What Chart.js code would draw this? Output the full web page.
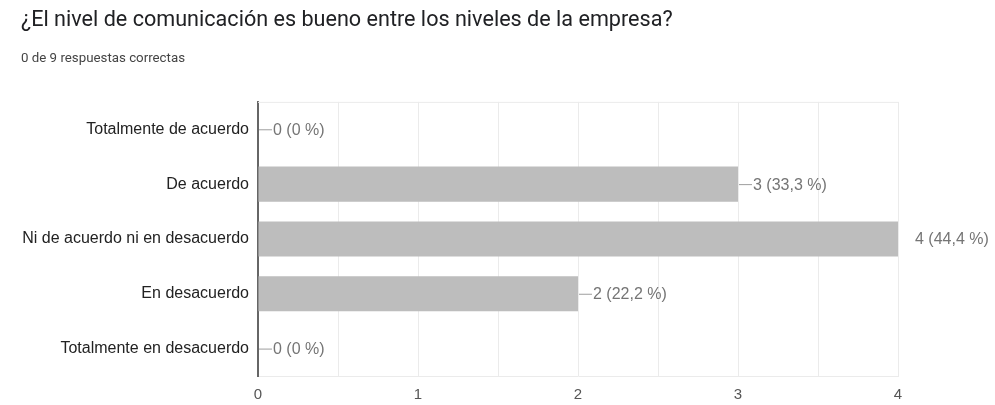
<!DOCTYPE html>
<html>
<head>
<meta charset="utf-8">
<script src="https://cdn.jsdelivr.net/npm/chart.js@4"></script>
<style>
  html, body { margin: 0; padding: 0; background: #fff; }
  #wrap { width: 995px; height: 405px; }
</style>
</head>
<body>
<div id="wrap"><canvas id="survey-chart"></canvas></div>
<script>
const categories = ['Totalmente de acuerdo', 'De acuerdo', 'Ni de acuerdo ni en desacuerdo', 'En desacuerdo', 'Totalmente en desacuerdo'];
const counts = [0, 3, 4, 2, 0];
const percents = ['0 %', '33,3 %', '44,4 %', '22,2 %', '0 %'];
const tickValues = [0, 1, 2, 3, 4];

const font = '"Liberation Sans", Arial, sans-serif';

// dash + "n (p %)" next to each bar, dash clipped to the plot area
const barLabels = {
	id: 'barLabels',
	afterDatasetsDraw(chart) {
		const ctx = chart.ctx,
			area = chart.chartArea,
			meta = chart.getDatasetMeta(0);

		ctx.save();
		meta.data.forEach((bar, i) => {
			const x = bar.x, y = bar.y;

			ctx.save();
			ctx.beginPath();
			ctx.rect(area.left, area.top, area.right - area.left + 1, area.bottom - area.top);
			ctx.clip();
			ctx.strokeStyle = '#9e9e9e';
			ctx.lineWidth = 1;
			ctx.beginPath();
			ctx.moveTo(x + 1, y + 0.5);
			ctx.lineTo(x + 14, y + 0.5);
			ctx.stroke();
			ctx.restore();

			ctx.fillStyle = '#757575';
			ctx.font = '16px ' + font;
			ctx.textBaseline = 'middle';
			ctx.textAlign = 'left';
			const off = x + 14 > area.right + 1 ? 17 : 15;
			ctx.fillText(counts[i] + ' (' + percents[i] + ')', x + off, y + 1);
		});
		ctx.restore();
	},
	beforeDatasetsDraw(chart) {
		const ctx = chart.ctx, area = chart.chartArea;
		ctx.save();
		ctx.strokeStyle = '#ebebeb';
		ctx.lineWidth = 1;
		ctx.beginPath();
		ctx.moveTo(area.left, area.top + 0.5);
		ctx.lineTo(area.right, area.top + 0.5);
		ctx.stroke();
		ctx.restore();
	}
};

new Chart(document.getElementById('survey-chart'), {
	type: 'bar',
	data: {
		labels: categories,
		datasets: [{
			data: counts,
			backgroundColor: '#bdbdbd',
			borderWidth: 0,
			barPercentage: 0.8,
			categoryPercentage: 0.8
		}]
	},
	options: {
		indexAxis: 'y',
		responsive: true,
		maintainAspectRatio: false,
		animation: false,
		layout: {
			padding: { left: 21, right: 97, top: 0, bottom: 0 }
		},
		plugins: {
			legend: { display: false },
			tooltip: { enabled: false },
			title: {
				display: true,
				text: '¿El nivel de comunicación es bueno entre los niveles de la empresa?',
				align: 'start',
				color: '#202124',
				font: { family: 'Roboto, ' + font, size: 21.6, weight: 'normal' },
				padding: { top: 8, bottom: 17 }
			},
			subtitle: {
				display: true,
				text: '0 de 9 respuestas correctas',
				align: 'start',
				color: '#444',
				font: { family: 'Roboto, ' + font, size: 13.3 },
				padding: { top: 0, bottom: 35 }
			}
		},
		scales: {
			x: {
				min: 0,
				max: 4,
				grid: { color: '#ebebeb', drawTicks: false },
				border: { color: '#ebebeb' },
				ticks: {
					stepSize: 0.5,
					color: '#555',
					padding: 10,
					font: { family: font, size: 15 },
					callback: v => tickValues.includes(v) ? String(v) : ''
				},
				afterFit(scale) {
					scale.height = 29;
				}
			},
			y: {
				grid: { display: false },
				border: { color: '#666', width: 2 },
				ticks: {
					color: '#222',
					padding: 1,
					font: { family: font, size: 16 }
				},
				afterFit(scale) {
					scale.width = 237;
				}
			}
		}
	},
	plugins: [barLabels]
});
</script>
</body>
</html>
